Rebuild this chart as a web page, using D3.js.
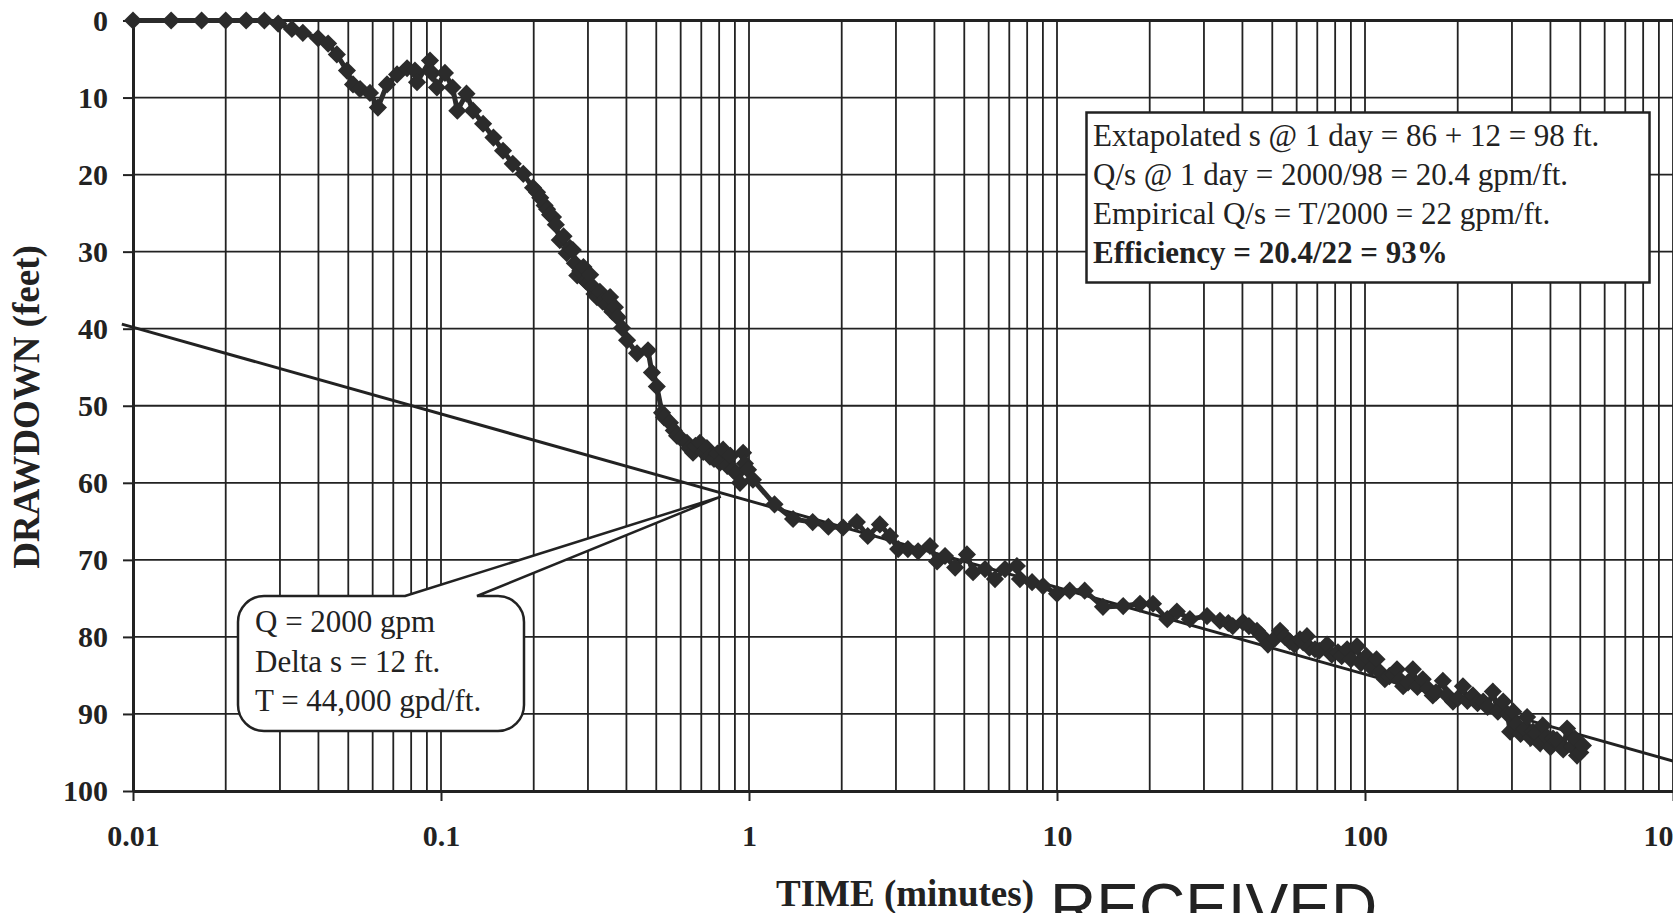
<!DOCTYPE html>
<html>
<head>
<meta charset="utf-8">
<script src="https://cdn.jsdelivr.net/npm/d3@7"></script>
<style>
  body { margin: 0; background: #fff; }
  svg { display: block; }
</style>
</head>
<body>
<div id="chart"></div>
<script>
// drawdown record (sorted by time before drawing)
var timeMin = [
    0.01, 0.0133, 0.0167, 0.02, 0.0233, 0.0267, 0.0296, 0.0328, 0.0356, 0.0399,
    0.043, 0.0459, 0.0495, 0.0518, 0.0546, 0.0588, 0.0624, 0.0668, 0.072, 0.0776,
    0.0823, 0.0836, 0.0921, 0.0935, 0.097, 0.103, 0.109, 0.113, 0.121, 0.127,
    0.137, 0.148, 0.159, 0.171, 0.185, 0.199, 0.21, 0.221, 0.231, 0.243,
    0.256, 0.268, 0.277, 0.29, 0.3, 0.305, 0.321, 0.328, 0.354, 0.367,
    0.387, 0.402, 0.433, 0.47, 0.484, 0.502, 0.522, 0.554, 0.584, 0.629,
    0.658, 0.693, 0.747, 0.805, 0.824, 0.887, 0.935, 0.957, 0.993, 1.03,
    1.21, 1.39, 1.61, 1.81, 2.02, 2.24, 2.43, 2.66, 2.87, 3.05,
    3.28, 3.54, 3.87, 4.08, 4.33, 4.67, 5.1, 5.34, 5.84, 6.29,
    6.78, 7.41, 7.58, 8.3, 9.01, 10, 11, 12.3, 14.1, 16.4,
    18.6, 20.5, 22.8, 24.5, 27, 30.7, 33.8, 37.2, 40.2, 44.6,
    48.4, 53, 57, 61.5, 64.8, 68.8, 75.3, 81.7, 87.5, 94.2,
    101, 109, 116, 127, 133, 143, 154, 166, 179, 193,
    208, 224, 242, 260, 281, 296, 303, 336, 351, 378,
    408, 453, 488, 510,
    // denser readings in the heavy parts of the trace
    0.205, 0.217, 0.226, 0.236, 0.25, 0.262, 0.272, 0.283, 0.295, 0.31,
    0.315, 0.335, 0.345, 0.36, 0.375, 0.53, 0.57, 0.6, 0.64, 0.67,
    0.71, 0.73, 0.77, 0.79, 0.85, 0.87, 0.91, 0.97, 36, 42,
    46, 51, 55, 59, 63, 66, 71, 78, 84, 90,
    97, 105, 112, 120, 124, 130, 138, 148, 160, 170,
    185, 200, 215, 232, 250, 270, 290, 310, 320, 330,
    345, 360, 370, 390, 400, 420, 440, 470, 480, 500
];
var drawdownFt = [
    0, 0, 0, 0, 0, 0, 0.4, 1.1, 1.6, 2.3,
    3.0, 4.4, 6.5, 8.3, 8.9, 9.4, 11.3, 8.3, 7.0, 6.2,
    6.5, 8.0, 5.2, 6.8, 8.7, 6.8, 8.7, 11.7, 9.5, 11.7,
    13.4, 15.2, 16.9, 18.6, 19.9, 21.7, 23, 24.5, 25.5, 28.5,
    30.2, 29.8, 33.1, 32, 34.1, 33, 35.9, 35.2, 35.9, 37.2,
    39.9, 41.5, 43.2, 42.8, 45.7, 47.5, 50.9, 52.2, 53.9, 54.8,
    56.1, 54.8, 56.6, 57.4, 55.7, 58.3, 60, 56.1, 58.3, 59.6,
    62.8, 64.7, 65.1, 65.7, 65.8, 65.1, 66.9, 65.4, 66.9, 68.6,
    68.6, 68.9, 68.2, 70.2, 69.5, 71, 69.3, 71.6, 71.2, 72.5,
    71.2, 70.8, 72.5, 72.9, 73.4, 74.4, 74, 74, 76.1, 76,
    75.7, 75.7, 77.7, 76.7, 77.7, 77.3, 77.9, 78.6, 78.1, 79.2,
    81, 79.2, 80.6, 80.3, 79.9, 81.6, 81, 82, 81.6, 81.2,
    82.5, 82.9, 85.5, 84.2, 86.4, 84.2, 85.5, 87.6, 85.7, 88.4,
    86.4, 87.6, 88.4, 87.1, 88.4, 92.3, 89.7, 90.4, 92.3, 91.5,
    93.2, 91.9, 95.4, 94.1,
    22.3, 24, 25.2, 26.5, 28, 29.5, 31.5, 32.5, 33.8, 34.5,
    35.5, 36.5, 36.8, 37.8, 38.5, 51.5, 53.2, 54.2, 55.5, 55.2,
    56.0, 55.5, 56.9, 56.2, 57.8, 56.5, 58.8, 57.5, 78.2, 78.6,
    79.8, 80.2, 80.0, 81, 80.7, 81.4, 81.8, 82.3, 82.5, 82.9,
    83.4, 84.0, 84.6, 85.1, 84.9, 85.6, 85.9, 86.5, 86.7, 87.2,
    87.6, 88.0, 88.3, 88.6, 89.1, 89.7, 90.0, 91.3, 92.6, 92.0,
    93.1, 92.5, 93.8, 93.0, 94.3, 93.4, 94.6, 94.2, 93.2, 95.0
];

// straight-line (Cooper-Jacob) fit
var fitTime = [0.0092, 1000];
var fitDrawdown = [39.4, 96.1];

var xTicks = [0.01, 0.1, 1, 10, 100, 1000];
var xTickLabels = ["0.01", "0.1", "1", "10", "100", "1000"];
var yTicks = [0, 10, 20, 30, 40, 50, 60, 70, 80, 90, 100];

var noteLines = [
    "Extapolated s @ 1 day = 86 + 12 = 98 ft.",
    "Q/s @ 1 day = 2000/98 = 20.4 gpm/ft.",
    "Empirical Q/s = T/2000 = 22 gpm/ft.",
    "Efficiency = 20.4/22 = 93%"
];
var calloutLines = ["Q = 2000 gpm", "Delta s = 12 ft.", "T = 44,000 gpd/ft."];
var calloutTip = [0.81, 61.8];

var width = 1673, height = 913;
var ink = "#222";
var serif = "'Liberation Serif', 'Times New Roman', serif";

var svg = d3.select("#chart").append("svg")
    .attr("width", width)
    .attr("height", height)
    .attr("xmlns", "http://www.w3.org/2000/svg");

svg.append("rect").attr("width", width).attr("height", height).attr("fill", "#fff");

var x = d3.scaleLog().domain([0.01, 1000]).range([133, 1673]);
var y = d3.scaleLinear().domain([0, 100]).range([20.5, 791]);

// grid: every 1..9 of each log cycle, every 10 ft
var gridX = [];
xTicks.slice(0, -1).forEach(function(d){
    for (var k = 1; k < 10; k++) gridX.push(d * k);
});
gridX.push(1000);

svg.append("g").selectAll("line").data(gridX).enter().append("line")
    .attr("x1", function(d){ return x(d); }).attr("x2", function(d){ return x(d); })
    .attr("y1", y(0)).attr("y2", y(100))
    .attr("stroke", ink).attr("stroke-width", 1.8);

svg.append("g").selectAll("line").data(yTicks.slice(1, -1)).enter().append("line")
    .attr("x1", x(0.01)).attr("x2", width)
    .attr("y1", function(d){ return y(d); }).attr("y2", function(d){ return y(d); })
    .attr("stroke", ink).attr("stroke-width", 1.8);

// top border
svg.append("line")
    .attr("x1", x(0.01)).attr("x2", width)
    .attr("y1", y(0)).attr("y2", y(0))
    .attr("stroke", ink).attr("stroke-width", 3);

// axes
var yAxis = svg.append("g")
    .attr("transform", "translate(" + x(0.01) + ",0)")
    .call(d3.axisLeft(y).tickValues(yTicks).tickSize(10).tickSizeOuter(0).tickPadding(15));

var xAxis = svg.append("g")
    .attr("transform", "translate(0," + y(100) + ")")
    .call(d3.axisBottom(x).tickValues(xTicks)
        .tickFormat(function(d, i){ return xTickLabels[i]; })
        .tickSize(10).tickSizeOuter(0).tickPadding(24));

[yAxis, xAxis].forEach(function(ax){
    ax.select(".domain").attr("stroke", ink).attr("stroke-width", 3);
    ax.selectAll(".tick line").attr("stroke", ink).attr("stroke-width", 2);
    ax.selectAll(".tick text")
        .attr("fill", ink)
        .style("font-family", serif)
        .style("font-weight", "bold")
        .style("font-size", "30px");
});

// fitted straight line
svg.append("line")
    .attr("x1", x(fitTime[0])).attr("y1", y(fitDrawdown[0]))
    .attr("x2", x(fitTime[1])).attr("y2", y(fitDrawdown[1]))
    .attr("stroke", ink).attr("stroke-width", 3);

// data: line with diamond markers
var pts = timeMin.map(function(t, i){ return [t, drawdownFt[i]]; })
    .sort(function(a, b){ return a[0] - b[0]; });

svg.append("path")
    .datum(pts)
    .attr("fill", "none")
    .attr("stroke", "#2b2b2b")
    .attr("stroke-width", 5)
    .attr("d", d3.line()
        .x(function(d){ return x(d[0]); })
        .y(function(d){ return y(d[1]); }));

var diamond = d3.symbol().type(d3.symbolSquare).size(165);
svg.append("g").selectAll("path").data(pts).enter().append("path")
    .attr("d", diamond)
    .attr("transform", function(d){
        return "translate(" + x(d[0]) + "," + y(d[1]) + ") rotate(45)";
    })
    .attr("fill", "#2b2b2b");

// results box
var note = svg.append("g");
note.append("rect")
    .attr("x", 1086.5).attr("y", 112.5)
    .attr("width", 563).attr("height", 170)
    .attr("fill", "#fff").attr("stroke", ink).attr("stroke-width", 2.5);
note.selectAll("text").data(noteLines).enter().append("text")
    .attr("x", 1093)
    .attr("y", function(d, i){ return 146 + i * 39; })
    .style("font-family", serif)
    .style("font-size", "31px")
    .style("font-weight", function(d, i){ return i === 3 ? "bold" : "normal"; })
    .attr("fill", ink)
    .text(function(d){ return d; });

// callout bubble pointing at the straight line
var bx0 = 238, bx1 = 524, by0 = 596, by1 = 731, r = 26;
var tip = [x(calloutTip[0]), y(calloutTip[1])];
var p = d3.path();
p.moveTo(405, by0);
p.lineTo(tip[0], tip[1]);
p.lineTo(477, by0);
p.lineTo(bx1 - r, by0);
p.arcTo(bx1, by0, bx1, by0 + r, r);
p.lineTo(bx1, by1 - r);
p.arcTo(bx1, by1, bx1 - r, by1, r);
p.lineTo(bx0 + r, by1);
p.arcTo(bx0, by1, bx0, by1 - r, r);
p.lineTo(bx0, by0 + r);
p.arcTo(bx0, by0, bx0 + r, by0, r);
p.closePath();

svg.append("path")
    .attr("d", p.toString())
    .attr("fill", "#fff")
    .attr("stroke", ink)
    .attr("stroke-width", 2.5);

svg.append("g").selectAll("text").data(calloutLines).enter().append("text")
    .attr("x", 255)
    .attr("y", function(d, i){ return 632 + i * 39.5; })
    .style("font-family", serif)
    .style("font-size", "31px")
    .attr("fill", ink)
    .text(function(d){ return d; });

// axis titles
svg.append("text")
    .attr("transform", "translate(39,407) rotate(-90)")
    .attr("text-anchor", "middle")
    .style("font-family", serif)
    .style("font-weight", "bold")
    .style("font-size", "37px")
    .attr("fill", ink)
    .text("DRAWDOWN (feet)");

svg.append("text")
    .attr("x", 905).attr("y", 906)
    .attr("text-anchor", "middle")
    .style("font-family", serif)
    .style("font-weight", "bold")
    .style("font-size", "37px")
    .attr("fill", ink)
    .text("TIME (minutes)");

// received stamp, cut by the page edge
svg.append("text")
    .attr("x", 1050).attr("y", 929)
    .style("font-family", "'Liberation Sans', Arial, sans-serif")
    .style("font-size", "64px")
    .attr("fill", ink)
    .text("RECEIVED");
</script>
</body>
</html>
